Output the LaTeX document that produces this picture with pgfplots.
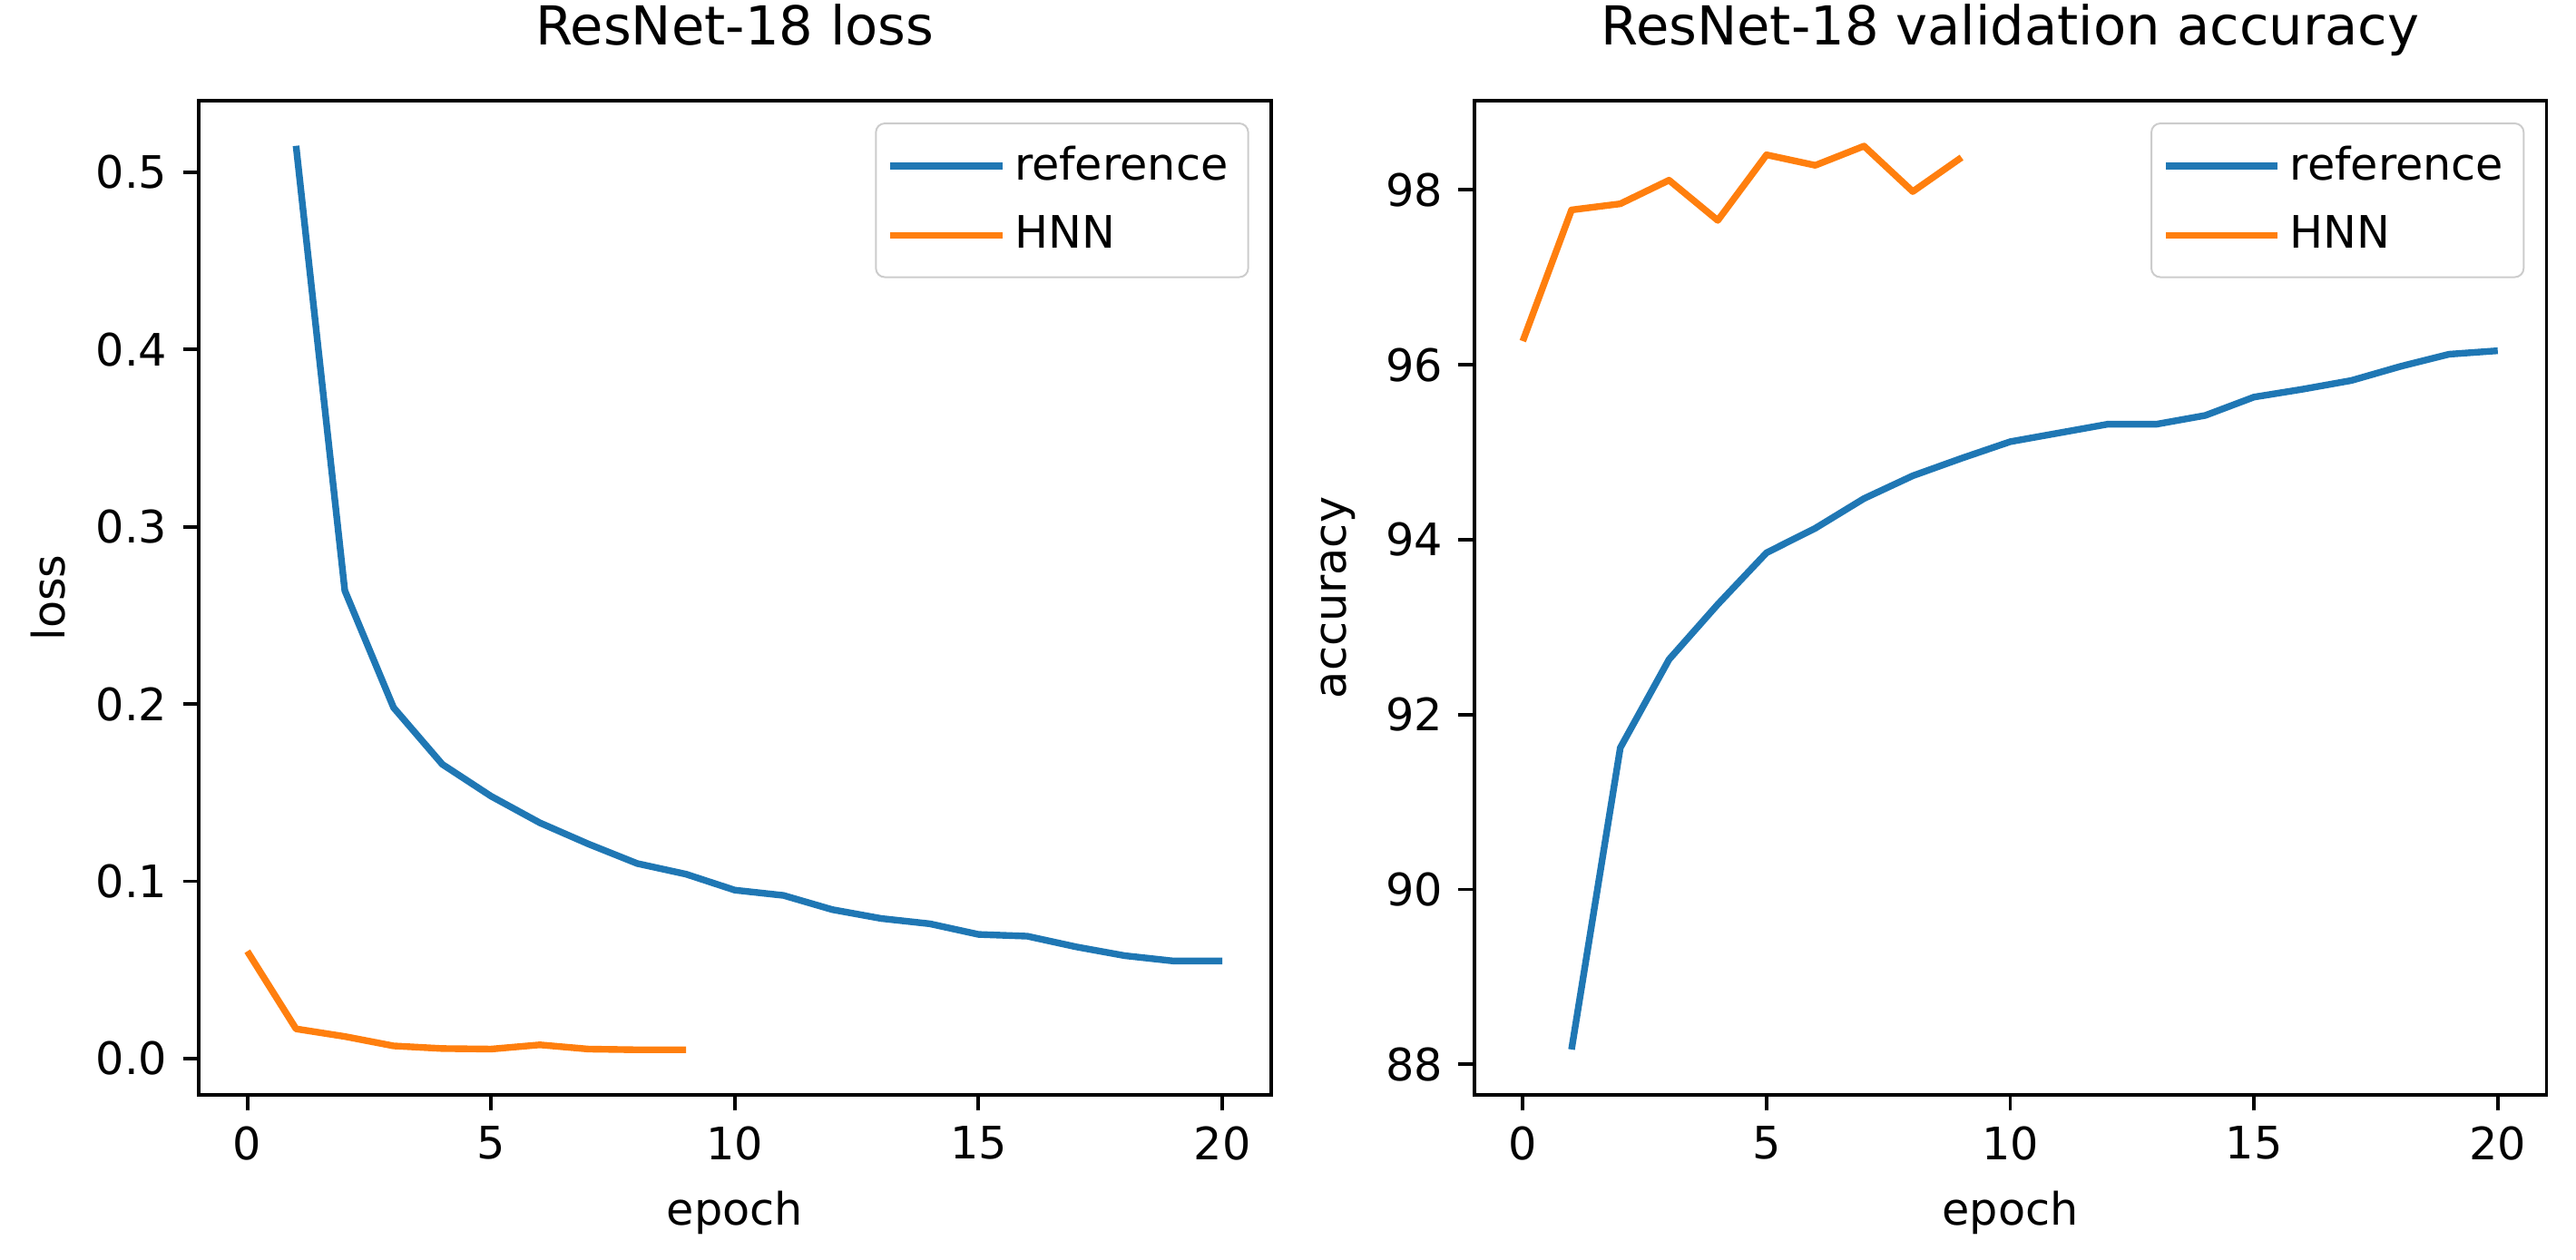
\documentclass[border=0pt]{standalone}
\usepackage{pgfplots}
\pgfplotsset{compat=1.18}
\usepackage{fontspec}
\setmainfont{DejaVu Sans}
\definecolor{mplblue}{HTML}{1F77B4}
\definecolor{mplorange}{HTML}{FF7F0E}

\pgfplotsset{
  mplstyle/.style={
    scale only axis,
    width=239.8pt, height=222.4pt,
    xmin=-1, xmax=21,
    xtick={0,5,...,20},
    tick align=outside,
    tick pos=left,
    major tick length=3.5pt,
    every tick/.style={black, line width=0.8pt},
    axis line style={line width=0.8pt},
    /pgf/number format/assume math mode=true,
    ticklabel style={font=\fontsize{10}{12}\selectfont},
    label style={font=\fontsize{10}{12}\selectfont},
    title style={font=\fontsize{12}{14}\selectfont, at={(0.5,1)}, anchor=base, yshift=6.5pt},
    xlabel={epoch},
    legend style={at={(1,1)}, xshift=-4.9pt, yshift=-4.9pt, anchor=north east,
      draw=black!20, rounded corners=2pt, fill=white, fill opacity=0.8, text opacity=1,
      font=\fontsize{10}{12}\selectfont, inner xsep=2.5pt, inner ysep=3pt, row sep=2.5pt},
    legend cell align=left,
    legend image code/.code={\draw[#1] (0pt,0pt) -- (22pt,0pt); \path (0pt,0pt) -- (25pt,0pt);},
    every axis plot/.append style={line width=1.5pt, line join=round},
  }
}

\begin{document}
\begin{tikzpicture}
\path[use as bounding box] (-44.4pt,-36.9pt) rectangle (531.6pt,244.9pt);

\begin{axis}[mplstyle,
  at={(0pt,0pt)}, anchor=south west,
  title={ResNet-18 loss},
  ylabel={loss},
  ymin=-0.0206, ymax=0.5405,
  ytick={0,0.1,...,0.5},
  yticklabel style={/pgf/number format/.cd, fixed, fixed zerofill, precision=1},
]
\addplot[mplblue] coordinates {
  (1,0.515) (2,0.264) (3,0.198) (4,0.166) (5,0.148) (6,0.133) (7,0.121)
  (8,0.110) (9,0.104) (10,0.095) (11,0.092) (12,0.084) (13,0.079) (14,0.076)
  (15,0.070) (16,0.069) (17,0.063) (18,0.058) (19,0.055) (20,0.055)
};
\addlegendentry{reference}
\addplot[mplorange] coordinates {
  (0,0.0605) (1,0.0167) (2,0.0124) (3,0.0071) (4,0.0056) (5,0.0053)
  (6,0.0077) (7,0.0053) (8,0.0049) (9,0.0049)
};
\addlegendentry{HNN}
\end{axis}

\begin{axis}[mplstyle,
  at={(285.2pt,0pt)}, anchor=south west,
  title={ResNet-18 validation accuracy},
  ylabel={accuracy},
  ymin=87.65, ymax=99.02,
  ytick={88,90,...,98},
]
\addplot[mplblue] coordinates {
  (1,88.17) (2,91.62) (3,92.63) (4,93.26) (5,93.85) (6,94.13) (7,94.47)
  (8,94.73) (9,94.93) (10,95.12) (11,95.22) (12,95.32) (13,95.32) (14,95.42)
  (15,95.63) (16,95.72) (17,95.82) (18,95.98) (19,96.12) (20,96.16)
};
\addlegendentry{reference}
\addplot[mplorange] coordinates {
  (0,96.27) (1,97.77) (2,97.84) (3,98.11) (4,97.65) (5,98.40)
  (6,98.28) (7,98.50) (8,97.98) (9,98.37)
};
\addlegendentry{HNN}
\end{axis}
\end{tikzpicture}
\end{document}
